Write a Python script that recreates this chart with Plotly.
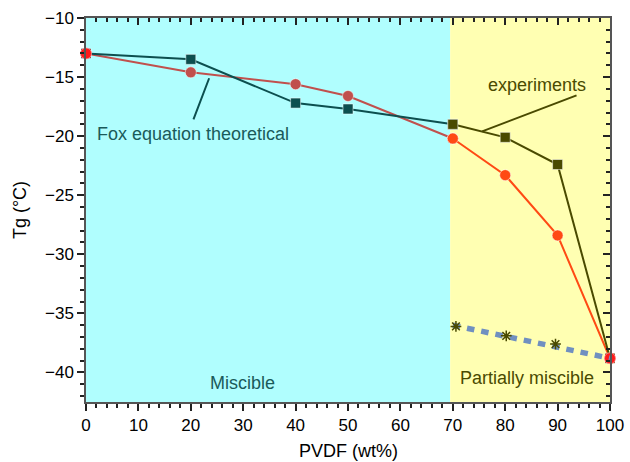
import plotly.graph_objects as go

pvdf = [0, 20, 40, 50, 70, 80, 90, 100]
tg_exp = [-13.0, -13.5, -17.2, -17.7, -19.0, -20.1, -22.4, -38.8]
tg_fox = [-13.0, -14.6, -15.6, -16.6, -20.2, -23.3, -28.4, -38.8]
dot_x = [70, 100]
dot_y = [-36.0, -38.8]
star_x = [70.6, 80.2, 89.6]
star_y = [-36.1, -36.9, -37.6]
boundary = 69.5

TEAL = "#0c4f4f"
OLIVE = "#4a4a00"
IRED = "#c0504d"
ORED = "#ff4a14"

fig = go.Figure()

def seg(xs, ys, color, symbol, size, name):
    fig.add_trace(go.Scatter(
        x=xs, y=ys, mode="lines+markers", name=name,
        line=dict(color=color, width=2),
        marker=dict(symbol=symbol, size=size, color=color,
                    line=dict(color="rgba(255,255,255,0.5)", width=1)),
        showlegend=False, cliponaxis=False))

seg(pvdf[:5], tg_fox[:5], IRED, "circle", 11, "fox1")
seg(pvdf[4:], tg_fox[4:], ORED, "circle", 11, "fox2")
seg(pvdf[:5], tg_exp[:5], TEAL, "square", 10, "exp1")
seg(pvdf[4:], tg_exp[4:], OLIVE, "square", 10, "exp2")

# red end points
ends_x = [pvdf[0], pvdf[-1]]
ends_y = [tg_fox[0], tg_fox[-1]]
fig.add_trace(go.Scatter(x=ends_x, y=ends_y, mode="markers",
                         marker=dict(symbol="square", size=9, color="#ff1a1a"),
                         showlegend=False, cliponaxis=False))
fig.add_trace(go.Scatter(x=ends_x, y=ends_y, mode="markers",
                         marker=dict(symbol="circle", size=11, color="#ff1a1a",
                                     line=dict(color="rgba(255,150,150,0.7)", width=1)),
                         showlegend=False, cliponaxis=False))

# dotted line
fig.add_trace(go.Scatter(x=dot_x, y=dot_y, mode="lines",
                         line=dict(color="#7090c0", width=5.5, dash="7.5px,7px"),
                         showlegend=False))
# stars
fig.add_trace(go.Scatter(x=star_x, y=star_y, mode="markers",
                         marker=dict(symbol="asterisk-open", size=9, color=OLIVE,
                                     line=dict(color=OLIVE, width=1.5)),
                         showlegend=False))

# dummy trace for mirrored axes
fig.add_trace(go.Scatter(x=[0], y=[-10], xaxis="x2", yaxis="y2", mode="markers",
                         marker=dict(opacity=0), showlegend=False, hoverinfo="skip"))

fig.add_shape(type="rect", xref="x", yref="paper", x0=0, x1=boundary, y0=0, y1=1,
              fillcolor="#b0fefe", line=dict(width=0), layer="below")
fig.add_shape(type="rect", xref="x", yref="paper", x0=boundary, x1=100, y0=0, y1=1,
              fillcolor="#ffffb2", line=dict(width=0), layer="below")

FONT = "Liberation Sans, Arial, sans-serif"

fig.add_annotation(x=23.5, y=-15.1, ax=20.4, ay=-18.7, axref="x", ayref="y",
                   text="", showarrow=True, arrowhead=0, arrowwidth=2, arrowcolor=TEAL)
fig.add_annotation(x=20.4, y=-19.8, text="Fox equation theoretical", showarrow=False,
                   font=dict(size=18, color="#1a5a5a", family=FONT))
fig.add_annotation(x=75.6, y=-19.6, ax=93.9, ay=-16.5, axref="x", ayref="y",
                   text="", showarrow=True, arrowhead=0, arrowwidth=2, arrowcolor=OLIVE)
fig.add_annotation(x=86.1, y=-15.65, text="experiments", showarrow=False,
                   font=dict(size=18, color=OLIVE, family=FONT))
fig.add_annotation(x=29.8, y=-40.85, text="Miscible", showarrow=False,
                   font=dict(size=18, color="#1a5a5a", family=FONT))
fig.add_annotation(x=84.2, y=-40.45, text="Partially miscible", showarrow=False,
                   font=dict(size=18, color=OLIVE, family=FONT))
# x axis title
fig.add_annotation(x=0.5, xref="paper", y=-0.128, yref="paper", yanchor="middle",
                   text="PVDF (wt%)", showarrow=False,
                   font=dict(size=18, color="black", family=FONT))

axcommon = dict(showgrid=False, zeroline=False, showline=True, linecolor="#555555",
                linewidth=1.5, tickcolor="#222222", tickwidth=1.5, automargin=False)

fig.update_layout(
    width=630, height=462,
    margin=dict(l=86, r=20, t=18, b=60),
    paper_bgcolor="white", plot_bgcolor="white",
    font=dict(family=FONT, size=17, color="black"),
    xaxis=dict(range=[0, 100], dtick=10, tick0=0, ticks="outside", ticklen=7,
               minor=dict(dtick=2, ticklen=4, ticks="outside", tickcolor="#222222"),
               tickfont=dict(size=17), **axcommon),
    yaxis=dict(range=[-42.5, -10], dtick=5, tick0=-10, ticks="outside", ticklen=7,
               minor=dict(dtick=1, ticklen=4, ticks="outside", tickcolor="#222222"),
               title=dict(text="Tg (°C)", standoff=14, font=dict(size=18)),
               tickfont=dict(size=17), **axcommon),
    xaxis2=dict(range=[0, 100], overlaying="x", side="top", anchor="y", dtick=10, tick0=0,
                ticks="inside", ticklen=7, showticklabels=False,
                minor=dict(dtick=2, ticklen=4, ticks="inside", tickcolor="#222222"),
                **axcommon),
    yaxis2=dict(range=[-42.5, -10], overlaying="y", side="right", anchor="x", dtick=5,
                tick0=-10, ticks="inside", ticklen=7, showticklabels=False,
                minor=dict(dtick=1, ticklen=4, ticks="inside", tickcolor="#222222"),
                **axcommon),
)

fig.write_html("out.html")
